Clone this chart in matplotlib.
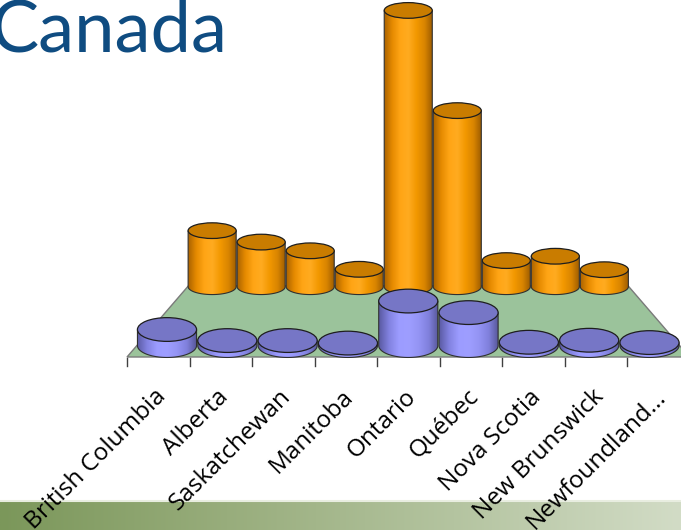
import numpy as np
import matplotlib
matplotlib.use('Agg')
import matplotlib.pyplot as plt
from matplotlib.patches import Polygon, Ellipse
from matplotlib.colors import LinearSegmentedColormap

# данные
provinces = ['British Columbia', 'Alberta', 'Saskatchewan', 'Manitoba', 'Ontario',
             'Québec', 'Nova Scotia', 'New Brunswick', 'Newfoundland...']
back_vals = [20.6, 16.4, 13.2, 6.4, 101.5, 64.7, 9.6, 11.2, 6.25]   # оранжевый ряд (задний)
front_vals = [4.8, 1.5, 1.5, 0.75, 13.3, 9.85, 1.0, 1.6, 0.9]      # синий ряд (передний)

# параметры псевдо-3D проекции (в пикселях картинки)
XC, W0 = 408.25, 62.5      # центр и ширина категории на переднем крае пола
Y0, YH = 357.0, 31.0       # передний край пола и "горизонт"
A = 0.279                  # сила перспективы
RZ = 0.14                  # радиус цилиндра по глубине
PX = 3.47                  # пикселей на единицу значения


def k(z):
    return 1.0 / (1.0 + A * z)


def sx(ix, z):
    return XC + ix * W0 * k(z)


def sy(z):
    return YH + (Y0 - YH) * k(z)


orange_cm = LinearSegmentedColormap.from_list('o', ['#a86200', '#e58a00', '#ffa515', '#ffab20', '#f29800', '#d88400', '#9a5a00'])
blue_cm = LinearSegmentedColormap.from_list('b', ['#5a5aa2', '#8282e0', '#9c9cff', '#9e9eff', '#9494f4', '#8080dc', '#555596'])
grad = np.linspace(0, 1, 256).reshape(1, -1)

fig = plt.figure(figsize=(6.81, 5.30), dpi=100)
ax = fig.add_axes([0, 0, 1, 1])
ax.set_xlim(0, 681)
ax.set_ylim(530, 0)
ax.axis('off')


def cylinder(i, z, val, cmap, top_color):
    ix = i - 4
    cx = sx(ix, z)
    cy = sy(z)
    r = 0.49 * W0 * k(z)
    ry = (sy(z - RZ) - sy(z + RZ)) / 2
    h = val * PX * k(z)
    yt = cy - h
    t = np.linspace(np.pi, 0, 60)
    arc = np.column_stack([cx + r * np.cos(t), cy + ry * np.sin(t)])
    pts = np.vstack([[cx - r, yt], arc, [cx + r, yt]])
    body = Polygon(pts, closed=True, transform=ax.transData, fc='none', ec='#303030', lw=0.8, zorder=3)
    im = ax.imshow(grad, cmap=cmap, extent=(cx - r, cx + r, cy + ry + 1, yt - 1),
                   aspect='auto', interpolation='bilinear', zorder=3)
    im.set_clip_path(body)
    ax.add_patch(body)
    ax.add_patch(Ellipse((cx, yt), 2 * r, 2 * ry, fc=top_color, ec='#1e1e1e', lw=0.9, zorder=3))


# пол
floor = [(sx(-4.5, 0), sy(0)), (sx(-4.5, 1), sy(1)), (sx(4.5, 1), sy(1)), (sx(4.5, 0), sy(0))]
ax.add_patch(Polygon(floor, closed=True, fc='#9bc39b', ec='#7a7a7a', lw=1.0, zorder=1))

# задний ряд, потом передний: от краёв к центру
order = sorted(range(len(provinces)), key=lambda i: -abs(i - 4))
for i in order:
    cylinder(i, 0.985, back_vals[i], orange_cm, '#c97c00')
for i in order:
    cylinder(i, 0.13, front_vals[i], blue_cm, '#7676c6')

# засечки и подписи
for j in range(len(provinces) + 1):
    x = sx(j - 4.5, 0)
    ax.plot([x, x], [Y0 + 1, Y0 + 9], color='#404040', lw=1.0, zorder=2)
for i, name in enumerate(provinces):
    ax.text(sx(i - 4, 0) - 4, Y0 + 28, name, rotation=45, rotation_mode='anchor',
            ha='right', va='top', fontsize=17.5, family=['Open Sans', 'DejaVu Sans'], color='black', zorder=5)

# нижняя полоса
band_cm = LinearSegmentedColormap.from_list('g', ['#7b975a', '#98ad7c', '#b4c4a0', '#d2dcc6'])
ax.imshow(grad, cmap=band_cm, extent=(0, 681, 530, 501), aspect='auto', zorder=0)
ax.plot([0, 681], [501, 501], color='#e8ede0', lw=1.5, zorder=0)

# заголовок
ax.text(-9, 52, 'Canada', fontsize=52, color='#0f4c81', family=['Lato', 'DejaVu Sans'],
        ha='left', va='baseline', zorder=5)

ax.set_xlim(0, 681)
ax.set_ylim(530, 0)
fig.savefig('out.png', dpi=100)
